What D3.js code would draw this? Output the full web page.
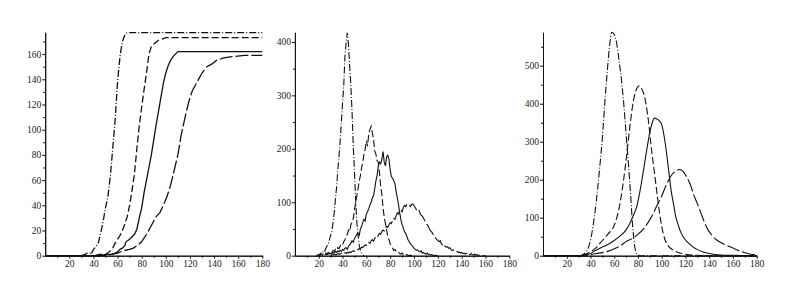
<!DOCTYPE html>
<html>
  <head>
    <meta charset="utf-8">
    <script src="https://d3js.org/d3.v7.min.js"></script>
    <style>
      body { margin: 0; background: white; }
      .axis text { font-family: "Liberation Serif", "DejaVu Serif", serif; font-size: 9.5px; fill: #222; }
      .axis path, .axis line { stroke: #111; }
      .curve { fill: none; stroke: #111; }
    </style>
  </head>
  <body>
    <script>
      // panel 1: cumulative counts
      var p1DashDot = [[0,0],[30,0],[33,1],[35,2],[37,2],[38,1],[40,5],[42,7],[44,10],[46,18],[48,27],[50,38],[52,47],[54,63],[56,85],[58,108],[60,138],[62,158],[64,170],[66,175],[68,177],[180,177]]
      var p1Dashed = [[0,0],[40,0],[45,1],[50,1],[53,3],[56,6],[58,10],[60,13],[62,16],[64,20],[66,25],[68,31],[70,40],[72,52],[74,65],[76,85],[78,103],[80,118],[82,132],[84,145],[86,160],[88,166],[90,168],[94,171],[100,173],[180,173]]
      var p1Solid = [[0,0],[45,0],[50,1],[55,1],[58,2],[60,3],[62,5],[64,6],[66,8],[67,11],[70,13],[72,15],[74,17],[76,21],[78,30],[80,38],[82,50],[84,60],[86,70],[88,80],[90,92],[92,104],[94,115],[96,126],[98,137],[100,145],[102,151],[104,155],[106,158],[108,160],[110,162],[180,162]]
      var p1LongDash = [[0,0],[50,0],[55,1],[60,2],[65,4],[70,5],[73,6],[76,8],[80,11],[84,17],[88,24],[92,31],[95,34],[98,40],[101,47],[104,56],[107,68],[110,80],[113,97],[116,110],[119,122],[122,131],[126,138],[130,145],[134,150],[138,152],[142,155],[148,157],[155,158],[165,159],[180,159]]

      // panel 2: noisy per-step counts (values at x0, x0+1, ...)
      var p2DashDotX0 = 18
      var p2DashDot = [1,0,3,2,5,4,9,8,14,18,22,30,38,45,62,80,105,128,160,185,215,250,285,318,372,400,417,395,355,318,268,205,158,105,62,38,20,10,5,2,0]
      var p2DashedX0 = 20
      var p2Dashed = [2,0,3,1,4,2,5,3,6,4,8,6,10,8,12,10,15,13,18,22,20,26,30,36,40,48,45,58,62,70,85,100,112,125,140,150,165,175,190,200,215,205,228,236,242,230,218,196,190,178,175,155,130,115,90,72,60,48,35,30,22,18,14,10,12,8,6,7,4,3,5,2,3,1,2,1,0,1,0,1,0]
      var p2SolidX0 = 25
      var p2Solid = [1,3,2,4,3,5,4,6,5,8,6,9,7,10,8,12,10,14,15,12,18,20,24,28,25,32,36,40,42,38,50,55,62,68,65,78,82,88,95,100,108,112,125,140,150,168,175,172,180,195,175,168,185,188,180,160,148,145,140,135,120,108,95,80,67,58,52,45,42,36,30,26,22,20,17,14,12,10,11,8,7,9,5,6,4,3,5,2,3,1,2,1,0,1,0,0]
      var p2LongDashX0 = 30
      var p2LongDash = [0,2,1,3,2,2,4,3,3,5,4,5,6,4,6,5,7,6,8,9,8,10,12,11,14,13,16,15,18,20,19,22,25,23,28,30,27,32,35,33,38,42,40,45,48,46,52,55,53,58,62,60,66,70,68,75,80,78,85,86,82,90,94,92,96,97,95,92,96,97,94,90,86,84,86,80,76,74,70,66,62,58,55,50,46,44,40,38,34,30,29,26,28,22,20,22,18,16,17,14,15,12,10,11,9,10,8,6,7,5,6,4,5,3,4,6,3,2,4,2,1,3,1,2,0,1,0,1,0,0,0]

      // panel 3: smooth densities
      var p3DashDot = [[0,0],[30,0],[33,2],[35,6],[38,20],[40,40],[42,75],[44,120],[46,175],[48,240],[50,310],[52,400],[54,480],[56,550],[58,588],[60,582],[62,560],[64,515],[66,465],[68,400],[70,320],[72,240],[74,150],[75,100],[76,60],[77,30],[78,12],[80,2],[82,0],[180,0]]
      var p3Dashed = [[0,0],[30,0],[35,3],[40,10],[45,22],[50,40],[55,58],[60,80],[63,110],[65,140],[67,180],[69,226],[71,280],[73,335],[75,385],[77,420],[79,440],[81,447],[83,440],[85,425],[87,395],[89,350],[91,290],[93,240],[95,190],[97,140],[99,95],[101,62],[103,40],[106,24],[110,14],[115,7],[120,4],[130,1],[140,0],[180,0]]
      var p3Solid = [[0,0],[30,0],[35,2],[40,6],[45,15],[50,23],[55,30],[60,40],[65,52],[70,68],[73,84],[76,105],[79,130],[82,175],[85,232],[88,290],[90,325],[92,350],[94,362],[96,360],[98,355],[100,345],[102,315],[104,272],[106,220],[108,170],[110,135],[112,100],[114,80],[116,62],[118,50],[122,35],[126,24],[130,16],[135,10],[140,6],[150,2],[160,1],[180,0]]
      var p3LongDash = [[0,0],[35,0],[40,3],[45,6],[50,8],[55,12],[60,18],[65,26],[70,37],[75,45],[80,56],[85,72],[90,95],[93,112],[96,132],[100,157],[103,180],[106,200],[109,215],[112,223],[115,227],[118,222],[121,207],[124,188],[127,160],[130,137],[133,112],[136,88],[139,68],[142,55],[146,42],[150,34],[155,27],[160,20],[165,13],[170,8],[175,4],[180,3]]

      var xTicks = [20,40,60,80,100,120,140,160,180]
      var xMinor = [10,30,50,70,90,110,130,150,170]
      var p1YTicks = [0,20,40,60,80,100,120,140,160]
      var p1YMinor = [10,30,50,70,90,110,130,150,170]
      var p2YTicks = [0,100,200,300,400]
      var p2YMinor = [50,150,250,350]
      var p3YTicks = [0,100,200,300,400,500]
      var p3YMinor = [50,150,250,350,450,550]

      var styles = {
        dashdot: '7,2,1,2',
        dashed: '7,3',
        solid: null,
        longdash: '13,3'
      }

      // turn x0 + values into [x,y] pairs
      function pairs(x0, vals) {
        return vals.map(function(v, i) { return [x0 + i, v]; });
      }

      var svg = d3.select('body').append('svg')
        .attr('width', 792)
        .attr('height', 283)

      svg.append('rect').attr('width', 792).attr('height', 283).attr('fill', 'white')

      var baseY = 255.7
      var topY = 32.3

      function panel(left, right, yMax, yTicks, yMinor, series, curve, width) {
        var x = d3.scaleLinear().domain([0,180]).range([left, right])
        var y = d3.scaleLinear().domain([0,yMax]).range([baseY, topY])
        var g = svg.append('g')

        var line = d3.line()
          .x(function(d){ return x(d[0]) })
          .y(function(d){ return y(d[1]) })
          .curve(curve)

        series.forEach(function(s) {
          g.append('path')
            .attr('class','curve')
            .attr('d', line(s.data))
            .attr('stroke-width', width)
            .attr('stroke-dasharray', styles[s.style])
        })

        // x axis
        g.append('g').attr('class','axis')
          .attr('transform','translate(0,' + baseY + ')')
          .call(d3.axisBottom(x).tickValues(xTicks).tickSize(3).tickSizeOuter(0).tickPadding(2).tickFormat(d3.format('d')))
        g.append('g').attr('class','axis')
          .attr('transform','translate(0,' + baseY + ')')
          .call(d3.axisBottom(x).tickValues(xMinor).tickSize(2).tickSizeOuter(0).tickFormat(''))

        // y axis
        g.append('g').attr('class','axis')
          .attr('transform','translate(' + left + ',0)')
          .call(d3.axisLeft(y).tickValues(yTicks).tickSize(3).tickSizeOuter(0).tickPadding(1).tickFormat(d3.format('d')))
        g.append('g').attr('class','axis')
          .attr('transform','translate(' + left + ',0)')
          .call(d3.axisLeft(y).tickValues(yMinor).tickSize(2).tickSizeOuter(0).tickFormat(''))
      }

      panel(45.2, 262.3, 177.3, p1YTicks, p1YMinor, [
        {data: p1DashDot, style: 'dashdot'},
        {data: p1Dashed, style: 'dashed'},
        {data: p1Solid, style: 'solid'},
        {data: p1LongDash, style: 'longdash'}
      ], d3.curveLinear, 1.3)

      panel(294.9, 509.3, 418, p2YTicks, p2YMinor, [
        {data: pairs(p2DashDotX0, p2DashDot), style: 'dashdot'},
        {data: pairs(p2DashedX0, p2Dashed), style: 'dashed'},
        {data: pairs(p2SolidX0, p2Solid), style: 'solid'},
        {data: pairs(p2LongDashX0, p2LongDash), style: 'longdash'}
      ], d3.curveLinear, 1.1)

      panel(543, 756.7, 588, p3YTicks, p3YMinor, [
        {data: p3DashDot, style: 'dashdot'},
        {data: p3Dashed, style: 'dashed'},
        {data: p3Solid, style: 'solid'},
        {data: p3LongDash, style: 'longdash'}
      ], d3.curveMonotoneX, 1.1)
    </script>
  </body>
</html>
